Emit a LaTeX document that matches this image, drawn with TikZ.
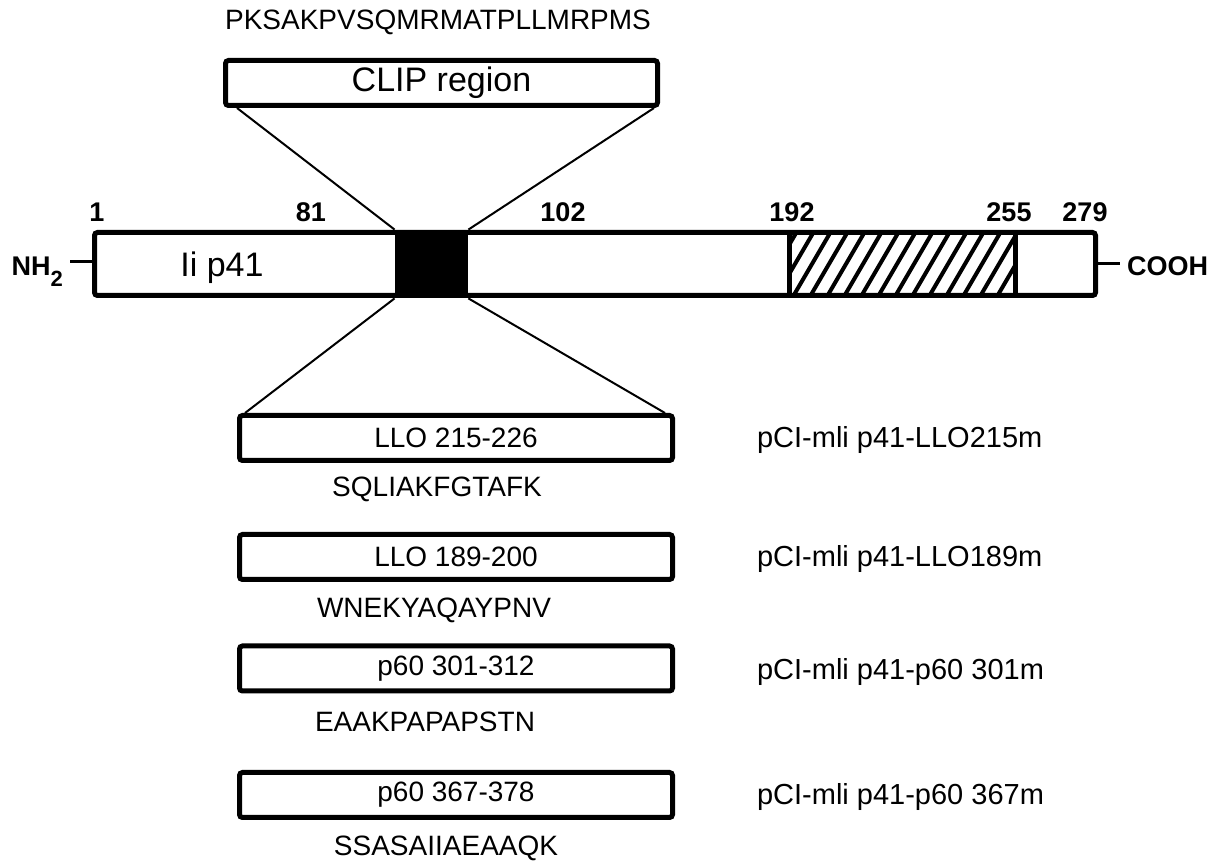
\documentclass[tikz,border=0pt]{standalone}
\usepackage{fontspec}
\setmainfont{Liberation Sans}
\usetikzlibrary{positioning,calc}

\tikzset{
  boxline/.style={draw, line width=2.5pt, rounded corners=1.5pt, inner sep=0pt},
  insert/.style={boxline, minimum width=216.5pt, minimum height=22.5pt,
    font=\fontsize{14}{16}\selectfont},
  seq/.style={font=\fontsize{14}{16}\selectfont},
  respos/.style={font=\bfseries\fontsize{13.5}{15}\selectfont},
  construct/.style={anchor=west, font=\fontsize{14.5}{17}\selectfont},
  cross/.style={line width=1pt},
  tick/.style={line width=1.5pt}
}

\begin{document}
\begin{tikzpicture}[x=0.5pt,y=-0.5pt]
\useasboundingbox (0,0) rectangle (1223,865);

% CLIP region on top
\node[seq] (clipseq) at (438,22) {PKSAKPVSQMRMATPLLMRPMS};
\node[boxline, minimum width=216pt, minimum height=22.5pt,
  font=\fontsize{17}{20}\selectfont] (clip) at (441.5,83) {CLIP region};

% main chain
\node[boxline, minimum width=500.5pt, minimum height=31.5pt] (bar) at (595,264) {};
\node[fill=black, inner sep=0pt, minimum width=36.5pt, minimum height=34pt] (core) at (431.5,264) {};
\node[inner sep=0pt, minimum width=112.5pt, minimum height=31.5pt] (tm) at (902.5,264) {};
\begin{scope}
  \clip (tm.south west) rectangle (tm.north east);
  \foreach \x in {740,757,...,1030}
    \draw[line width=2pt] (\x,300) -- (\x+42,228);
\end{scope}
\draw[line width=2.5pt] (tm.north west) -- (tm.south west);
\draw[line width=2.5pt] (tm.north east) -- (tm.south east);

\node[font=\fontsize{17}{20}\selectfont] (name) at (222,268) {Ii p41};

\node[respos] (r1) at (97,212) {1};
\node[respos] (r81) at (311,212) {81};
\node[respos] (r102) at (563,212) {102};
\node[respos] (r192) at (792,212) {192};
\node[respos] (r255) at (1009,212) {255};
\node[respos] (r279) at (1085,212) {279};

\node[respos, anchor=east] (nh) at (70,272) {NH\raisebox{-0.8ex}{\fontsize{11}{12}\selectfont 2}};
\node[respos, anchor=west] (cooh) at (1120,266) {COOH};
\draw[tick] (nh.east |- 0,262) -- (bar.west |- 0,262);
\draw[tick] (bar.east) -- (bar.east -| cooh.west);

% inserted epitopes
\node[insert] (llo215) at (456,438) {LLO 215-226};
\node[seq] (seq215) at (437,489) {SQLIAKFGTAFK};
\node[construct] (c215) at (750,440) {pCI-mli p41-LLO215m};

\node[insert] (llo189) at (456,557) {LLO 189-200};
\node[seq] (seq189) at (434,610) {WNEKYAQAYPNV};
\node[construct] (c189) at (750,559) {pCI-mli p41-LLO189m};

\node[insert] (p301) at (456,668.5) {p60 301-312};
\node[seq] (seq301) at (425,722) {EAAKPAPAPSTN};
\node[construct] (c301) at (750,672) {pCI-mli p41-p60 301m};

\node[insert] (p367) at (456,795) {p60 367-378};
\node[seq] (seq367) at (446,848) {SSASAIIAEAAQK};
\node[construct] (c367) at (750,797) {pCI-mli p41-p60 367m};

% expansion lines
\draw[cross] ([xshift=7pt]clip.south west) -- (core.north west);
\draw[cross] ([xshift=-3pt]clip.south east) -- (core.north east);
\draw[cross] (core.south west) -- ([xshift=4pt]llo215.north west);
\draw[cross] (core.south east) -- ([xshift=-5pt]llo215.north east);
\end{tikzpicture}
\end{document}
